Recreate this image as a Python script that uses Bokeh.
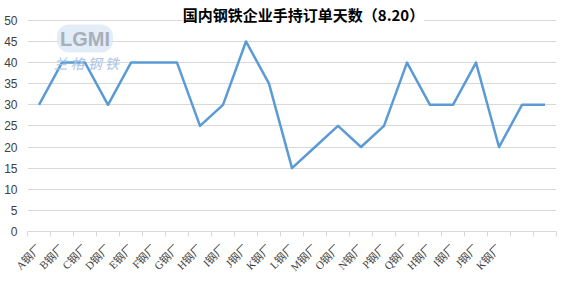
import math
from bokeh.plotting import figure
from bokeh.models import FixedTicker, Range1d, Label
from bokeh.embed import file_html
from bokeh.resources import INLINE

categories = ["A钢厂", "B钢厂", "C钢厂", "D钢厂", "E钢厂", "F钢厂", "G钢厂", "H钢厂",
              "I钢厂", "J钢厂", "K钢厂", "L钢厂", "M钢厂", "O钢厂", "N钢厂", "P钢厂",
              "Q钢厂", "H钢厂", "I钢厂", "J钢厂", "K钢厂", "", ""]
days = [30, 40, 40, 30, 40, 40, 40, 25, 30, 45, 35, 15, 20, 25, 20, 25,
        40, 30, 30, 40, 20, 30, 30]
y_ticks = [0, 5, 10, 15, 20, 25, 30, 35, 40, 45, 50]
title_text = "国内钢铁企业手持订单天数（8.20）"

n = len(categories)
xs = [i + 0.5 for i in range(n)]

# frame spans the full height above the axis; gridlines only go up to 50
p = figure(width=577, height=290, output_backend="svg", toolbar_location=None,
           x_range=Range1d(0, n), y_range=Range1d(0, 54.7),
           min_border_left=27, min_border_right=21, min_border_bottom=59,
           min_border_top=0)
p.outline_line_color = None
p.background_fill_color = "white"

# watermark logo
p.add_layout(Label(x=2.5, y=45.7, text="LGMI",
                   text_font="Liberation Sans", text_font_size="20px",
                   text_font_style="bold",
                   text_color="#A8AEBA", text_align="center", text_baseline="middle",
                   background_fill_color="#DCE8F6", background_fill_alpha=0.8,
                   border_radius=12, padding=3))
p.add_layout(Label(x=2.55, y=40.0, text="兰 格 钢 铁",
                   text_font="Noto Sans CJK SC", text_font_size="14px",
                   text_font_style="italic", text_color="#A9C4E6",
                   text_align="center", text_baseline="middle"))

p.line(xs, days, line_color="#5B9BD5", line_width=2.5, line_join="round")

# title drawn over the top gridline, like the reference
p.add_layout(Label(x=n / 2 + 0.5, y=51.4, text=title_text,
                   text_font="Noto Sans CJK SC", text_font_style="bold",
                   text_font_size="15px", text_color="#000000",
                   text_align="center", text_baseline="middle",
                   background_fill_color="white", background_fill_alpha=1.0))

# y axis
p.yaxis.ticker = FixedTicker(ticks=y_ticks)
p.yaxis.axis_line_color = None
p.yaxis.major_tick_line_color = None
p.yaxis.minor_tick_line_color = None
p.yaxis.major_tick_out = 0
p.yaxis.major_tick_in = 0
p.yaxis.minor_tick_out = 0
p.yaxis.minor_tick_in = 0
p.yaxis.major_label_text_font = "Liberation Sans"
p.yaxis.major_label_text_font_size = "12px"
p.yaxis.major_label_text_color = "#404040"
p.yaxis.major_label_standoff = 10

# x axis
p.xaxis.ticker = FixedTicker(ticks=xs, minor_ticks=list(range(n + 1)))
p.xaxis.major_label_overrides = {x: c for x, c in zip(xs, categories)}
p.xaxis.major_label_orientation = math.pi / 4
p.xaxis.major_label_text_font = "'Liberation Serif', 'Noto Sans CJK SC'"
p.xaxis.major_label_text_font_size = "11px"
p.xaxis.major_label_text_color = "#404040"
p.xaxis.axis_line_color = "#D9D9D9"
p.xaxis.major_tick_line_color = None
p.xaxis.major_tick_out = 0
p.xaxis.major_tick_in = 0
p.xaxis.minor_tick_line_color = "#D9D9D9"
p.xaxis.minor_tick_in = 0
p.xaxis.minor_tick_out = 5
p.xaxis.major_label_standoff = 10

p.xgrid.grid_line_color = None
p.ygrid.grid_line_color = "#D9D9D9"
p.ygrid.ticker = FixedTicker(ticks=y_ticks)

open("out.html", "w").write(file_html(p, INLINE))
